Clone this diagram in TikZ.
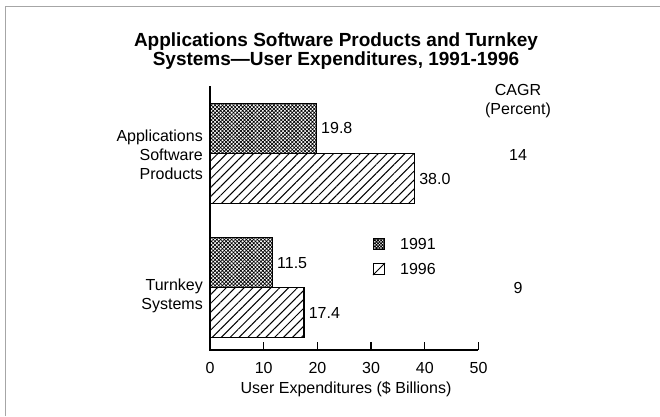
\documentclass[tikz,border=0pt]{standalone}
\usepackage{fontspec}
\setmainfont{Liberation Sans}
\usetikzlibrary{patterns.meta, positioning}
\tikzset{
    lbl/.style ={inner sep=0pt, font=\fontsize{16}{19}\selectfont},
    val/.style ={lbl, right=4pt of #1},
    bar/.style ={draw, line width=1.2pt, inner sep=0pt, minimum height=50pt, anchor=north west},
    yr91/.style={bar, pattern={Hatch[angle=45, distance=2.6pt, line width=0.7pt]}},
    yr96/.style={bar, pattern={Lines[angle=45, distance=6.3pt, line width=1pt]}},
    key/.style ={draw, line width=1pt, minimum size=11pt, inner sep=0pt}
}

\begin{document}
\begin{tikzpicture}[x=1pt, y=-1pt]
  \useasboundingbox (0,0) rectangle (660,416);
  \draw[gray!70, line width=1pt] (5,416) -- (5,6) -- (660,6);

  % title
  \node[font=\bfseries\fontsize{19}{17}\selectfont, align=center] (title) at (336,51)
    {Applications Software Products and Turnkey\\Systems---User Expenditures, 1991-1996};

  % axes
  \coordinate (o) at (210,350);
  \draw[line width=1.3pt] (210,86) -- (o) -- (478,350);
  \foreach \v in {1,...,5}
    \draw[line width=1.3pt] (210+\v*53.7,350) -- ++(0,-8);
  \foreach \v in {0,...,5}
    \node[lbl] (t\v) at (210+\v*53.7,368) {\pgfmathparse{int(\v*10)}\pgfmathresult};
  \node[lbl] (xlab) at (346,389) {User Expenditures (\$ Billions)};

  % bars
  \node[yr91, minimum width=19.8*5.37pt] (a91) at (210,103) {};
  \node[yr96, minimum width=38.0*5.37pt] (a96) at (210,153) {};
  \node[yr91, minimum width=11.5*5.37pt] (b91) at (210,237) {};
  \node[yr96, minimum width=17.4*5.37pt] (b96) at (210,287) {};

  \node[val=a91] {19.8};
  \node[val=a96] {38.0};
  \node[val=b91] {11.5};
  \node[val=b96] {17.4};

  % group labels
  \node[lbl, align=right, anchor=east] (apps) at (203,155) {Applications\\Software\\Products};
  \node[lbl, align=right, anchor=east] (turn) at (203,296) {Turnkey\\Systems};

  % legend
  \node[key, pattern={Hatch[angle=45, distance=2.2pt, line width=0.8pt]}] (k91) at (379,244) {};
  \node[key] (k96) at (379,269) {};
  \draw[line width=1pt] (k96.south west) -- (k96.north east);
  \node[lbl, right=15pt of k91] {1991};
  \node[lbl, right=15pt of k96] {1996};

  % CAGR column
  \node[lbl, align=center] (cagr) at (518,101) {CAGR\\(Percent)};
  \node[lbl] (ca) at (518,155) {14};
  \node[lbl] (cb) at (518,288) {9};
\end{tikzpicture}
\end{document}
